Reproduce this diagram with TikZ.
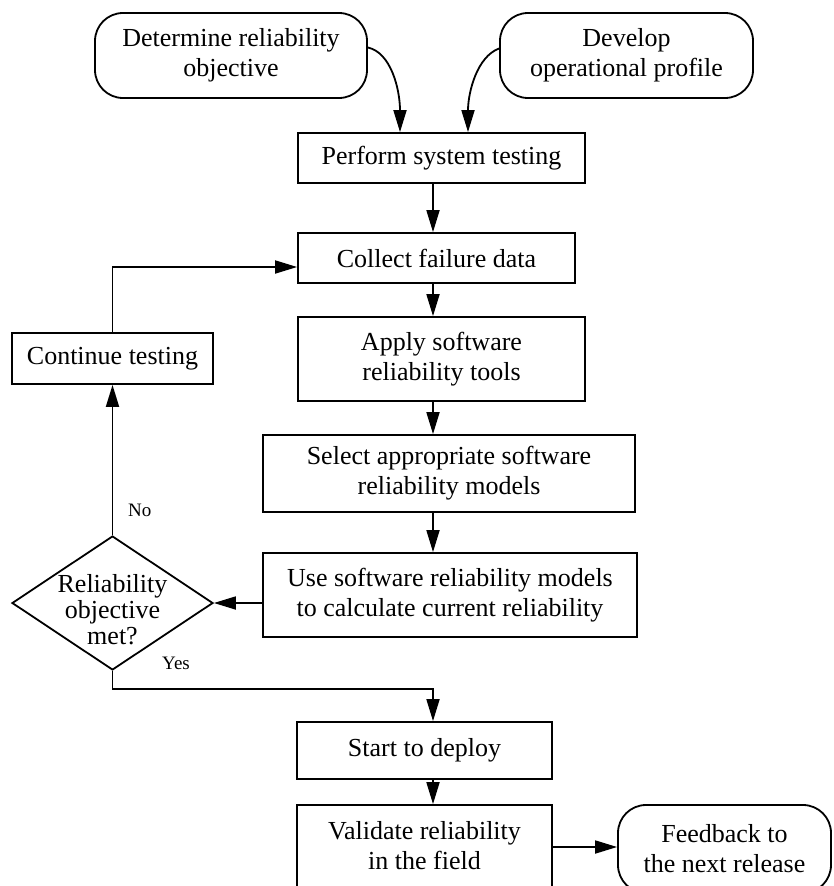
\documentclass[tikz,border=0pt]{standalone}
\usepackage{fontspec}
\setmainfont{Liberation Serif}
\usetikzlibrary{arrows.meta,shapes.geometric}

\tikzset{
  every node/.style={font=\fontsize{26}{30}\selectfont, align=center, inner sep=0pt},
  box/.style={draw, line width=1.8pt, rectangle},
  term/.style={draw, line width=1.8pt, rectangle, rounded corners=28pt},
  decision/.style={draw, line width=1.8pt, diamond, minimum width=201pt, minimum height=134pt},
  small/.style={font=\fontsize{19}{22}\selectfont},
  arr/.style={line width=1.8pt, -{Triangle[length=22pt,width=13pt]}},
}

\begin{document}
\begin{tikzpicture}[x=1pt,y=1pt]
  \useasboundingbox (0,0) rectangle (833,-886);
  \clip (0,0) rectangle (833,-886);

  % start terminals
  \node[term, minimum width=272pt, minimum height=85pt] (det) at (231,-55.5)
    {Determine reliability\\objective};
  \node[term, minimum width=253pt, minimum height=85pt] (dev) at (626.5,-55.5)
    {Develop\\operational profile};

  % main column
  \node[box, minimum width=287pt, minimum height=50pt] (perf) at (441.5,-158)
    {Perform system testing};
  \node[box, minimum width=277pt, minimum height=50pt] (coll) at (436.5,-258)
    {Collect failure data};
  \node[box, minimum width=287pt, minimum height=84pt] (app) at (441.5,-359)
    {Apply software\\reliability tools};
  \node[box, minimum width=372pt, minimum height=77pt] (sel) at (449,-473.5)
    {Select appropriate software\\reliability models};
  \node[box, minimum width=374pt, minimum height=84pt] (use) at (450,-595)
    {Use software reliability models\\to calculate current reliability};

  % loop back
  \node[box, minimum width=201pt, minimum height=51pt] (cont) at (112.5,-358.5)
    {Continue testing};
  \node[decision] (dec) at (112.5,-603) {};
  \node (dectext) at (112.5,-610) {Reliability\\[-4pt]objective\\[-4pt]met?};

  % deployment
  \node[box, minimum width=255pt, minimum height=57pt] (start) at (424.5,-750.5)
    {Start to deploy};
  \node[box, minimum width=255pt, minimum height=82pt] (val) at (424.5,-846)
    {Validate reliability\\in the field};
  \node[term, minimum width=213pt, minimum height=88pt] (fb) at (724.5,-849)
    {Feedback to\\the next release};

  % branch labels
  \node[small, anchor=west] (nolab) at (128,-510) {No};
  \node[small, anchor=west] (yeslab) at (162,-663) {Yes};

  % x position of the vertical arrows
  \coordinate (spine) at (433,0);

  % connectors
  \draw[arr] ([yshift=8pt]det.east) .. controls +(23,-5) and +(0,43) .. ([xshift=-41.5pt]perf.north);
  \draw[arr] ([yshift=7pt]dev.west) .. controls +(-22,-8) and +(0,40) .. ([xshift=26.5pt]perf.north);
  \draw[arr] (perf.south -| spine) -- (coll.north -| spine);
  \draw[arr] (coll.south -| spine) -- (app.north -| spine);
  \draw[arr] (app.south -| spine) -- (sel.north -| spine);
  \draw[arr] (sel.south -| spine) -- (use.north -| spine);
  \draw[arr] (use.west |- dec.east) -- (dec.east);
  \draw[arr] (dec.north) -- (cont.south);
  \draw[arr] (cont.north) |- ([yshift=-9pt]coll.west);
  \draw[arr] (dec.south) -- ++(0,-18) -| (start.north -| spine);
  \draw[arr] (start.south -| spine) -- (val.north -| spine);
  \draw[arr] ([yshift=-1pt]val.east) -- ([yshift=-1pt]val.east -| fb.west);
\end{tikzpicture}
\end{document}
